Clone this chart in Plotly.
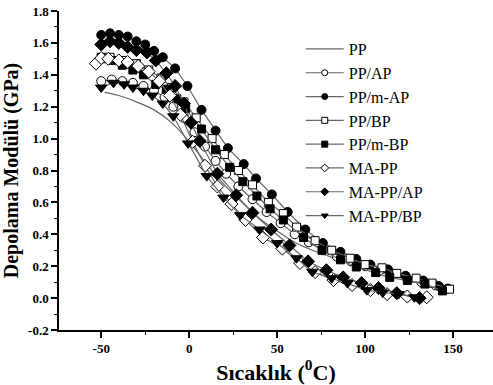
import plotly.graph_objects as go

# ---- data ----
pp_T = [-48, -40, -30, -20, -10, 0, 10, 20, 30, 40, 50, 60, 70, 80, 90, 100, 110, 120, 130, 140, 145]
pp_G = [1.29, 1.27, 1.23, 1.18, 1.10, 0.98, 0.84, 0.71, 0.60, 0.50, 0.42, 0.35, 0.30, 0.26, 0.22, 0.19, 0.16, 0.13, 0.11, 0.09, 0.08]

ppap_T = [-50, -44, -38, -32, -26, -20, -14, -9, -3, 3, 9, 15, 21, 28, 36, 44, 52, 60, 68, 76, 84, 92, 100, 108, 116, 124, 132, 140]
ppap_G = [1.36, 1.37, 1.36, 1.35, 1.33, 1.30, 1.26, 1.20, 1.13, 1.04, 0.95, 0.86, 0.78, 0.70, 0.62, 0.54, 0.47, 0.40, 0.35, 0.30, 0.26, 0.23, 0.20, 0.17, 0.15, 0.12, 0.10, 0.08]

ppmap_T = [-50, -45, -40, -35, -30, -25, -20, -15, -8, -1, 7, 15, 22, 31, 38, 47, 56, 66, 76, 86, 95, 103, 113, 123, 133, 142, 147]
ppmap_G = [1.65, 1.66, 1.65, 1.64, 1.61, 1.59, 1.55, 1.51, 1.44, 1.33, 1.18, 1.05, 0.94, 0.84, 0.75, 0.65, 0.54, 0.43, 0.345, 0.29, 0.245, 0.21, 0.18, 0.14, 0.11, 0.075, 0.06]

ppbp_T = [-50, -45, -38, -30, -23, -16, -10, -3, 4, 13, 20, 28, 36, 45, 53.5, 61, 71.6, 81, 91.5, 100, 109.6, 118, 129, 138, 148]
ppbp_G = [1.50, 1.51, 1.49, 1.47, 1.43, 1.38, 1.32, 1.23, 1.13, 1.00, 0.90, 0.80, 0.71, 0.60, 0.53, 0.445, 0.36, 0.30, 0.25, 0.21, 0.19, 0.155, 0.125, 0.094, 0.056]

ppmbp_T = [-50, -44, -38, -32, -26, -19, -13, -7, -2, 7, 15, 23, 30.5, 38.5, 46, 53.5, 65, 75.5, 86, 95, 106, 114, 124, 134, 144]
ppmbp_G = [1.51, 1.49, 1.46, 1.43, 1.40, 1.34, 1.31, 1.25, 1.19, 1.06, 0.93, 0.82, 0.73, 0.64, 0.56, 0.49, 0.38, 0.30, 0.24, 0.195, 0.16, 0.13, 0.11, 0.088, 0.045]

mapp_T = [-53, -50, -46, -40, -35, -29, -23, -17, -11, -5, 2, 9, 16, 24, 32, 42, 53, 63, 71.6, 82, 92.6, 103, 112.5, 124, 135]
mapp_G = [1.47, 1.505, 1.50, 1.49, 1.48, 1.455, 1.42, 1.36, 1.27, 1.15, 0.98, 0.83, 0.70, 0.59, 0.49, 0.38, 0.31, 0.22, 0.163, 0.113, 0.082, 0.05, 0.025, 0.01, 0.005]

mappap_T = [-50, -45, -40, -35, -30, -24, -19, -13, -8, -3, 1, 6, 16, 26.7, 36, 46.6, 57, 67.6, 78, 87.5, 98, 107.6, 118, 131]
mappap_G = [1.59, 1.61, 1.60, 1.575, 1.555, 1.54, 1.49, 1.41, 1.33, 1.22, 1.10, 0.985, 0.78, 0.645, 0.535, 0.43, 0.33, 0.23, 0.175, 0.13, 0.094, 0.063, 0.031, 0.0]

mappbp_T = [-50, -43, -37, -32, -26, -21, -15, -9, -0.6, 10, 19.5, 29, 40, 50, 61, 70, 81, 90, 101, 110, 119, 128]
mappbp_G = [1.32, 1.35, 1.34, 1.32, 1.30, 1.27, 1.22, 1.14, 0.97, 0.765, 0.63, 0.52, 0.43, 0.345, 0.25, 0.165, 0.125, 0.094, 0.05, 0.035, 0.025, 0.005]

x_ticks = [-50, 0, 50, 100, 150]
x_ticktext = ["-50", "0", "50", "100", "150"]
y_ticks = [-0.2, 0.0, 0.2, 0.4, 0.6, 0.8, 1.0, 1.2, 1.4, 1.6, 1.8]
y_ticktext = ["-0.2", "0.0", "0.2", "0.4", "0.6", "0.8", "1.0", "1.2", "1.4", "1.6", "1.8"]

LINE = "#666666"
series = [
    ("PP", pp_T, pp_G, None, None, None),
    ("PP/AP", ppap_T, ppap_G, "circle", "white", 9),
    ("PP/m-AP", ppmap_T, ppmap_G, "circle", "black", 9),
    ("PP/BP", ppbp_T, ppbp_G, "square", "white", 8),
    ("PP/m-BP", ppmbp_T, ppmbp_G, "square", "black", 8),
    ("MA-PP", mapp_T, mapp_G, "diamond", "white", 10),
    ("MA-PP/AP", mappap_T, mappap_G, "diamond", "black", 10),
    ("MA-PP/BP", mappbp_T, mappbp_G, "triangle-down", "black", 10),
]

fig = go.Figure()
for name, T, G, sym, fill, sz in series:
    if sym is None:
        fig.add_trace(go.Scatter(x=T, y=G, mode="lines", line=dict(color=LINE, width=1.2),
                                 showlegend=False, line_shape="spline"))
    else:
        fig.add_trace(go.Scatter(x=T, y=G, mode="lines+markers", line=dict(color=LINE, width=1.2),
                                 marker=dict(symbol=sym, color=fill, size=sz, line=dict(color="black", width=1)),
                                 showlegend=False))
# legend-only traces with small markers
for name, T, G, sym, fill, sz in series:
    if sym is None:
        fig.add_trace(go.Scatter(x=[None], y=[None], mode="lines", name=name,
                                 line=dict(color=LINE, width=1.2)))
    else:
        fig.add_trace(go.Scatter(x=[None], y=[None], mode="lines+markers", name=name,
                                 line=dict(color=LINE, width=1.2),
                                 marker=dict(symbol=sym, color=fill, size=6, line=dict(color="black", width=1))))

SERIF = "Liberation Serif"
fig.update_layout(
    width=493, height=385,
    margin=dict(l=59, r=0, t=11, b=55, autoexpand=False),
    plot_bgcolor="white", paper_bgcolor="white",
    font=dict(family=SERIF, color="black"),
    legend=dict(x=0.557, y=0.934, xanchor="left", yanchor="top",
                font=dict(family=SERIF, size=16, color="black", weight="normal"),
                bgcolor="rgba(0,0,0,0)", tracegroupgap=0, itemwidth=38),
    xaxis=dict(range=[-74, 172.7], tickvals=x_ticks, ticktext=x_ticktext, automargin=False,
               showline=True, linecolor="black", linewidth=1.5, mirror=False,
               ticks="outside", ticklen=6, tickwidth=1.5, tickcolor="black",
               minor=dict(dtick=25, tick0=-75, ticks="outside", ticklen=3, tickwidth=1.2, tickcolor="black"),
               showgrid=False, zeroline=False,
               tickfont=dict(family=SERIF, size=13, weight="bold"),
               title=dict(text="Sıcaklık (<sup>0</sup>C)", font=dict(family=SERIF, size=22, weight="bold"), standoff=2)),
    yaxis=dict(range=[-0.2, 1.8], tickvals=y_ticks, ticktext=y_ticktext, automargin=False,
               showline=True, linecolor="black", linewidth=1.5, mirror=False,
               ticks="outside", ticklen=6, tickwidth=1.5, tickcolor="black",
               minor=dict(dtick=0.1, tick0=-0.2, ticks="outside", ticklen=3, tickwidth=1.2, tickcolor="black"),
               showgrid=False, zeroline=False,
               tickfont=dict(family=SERIF, size=13, weight="bold"),
               title=dict(text="Depolama Modülü (GPa)", font=dict(family=SERIF, size=20, weight="bold"), standoff=4)),
)
fig.write_html("out.html", config={"displayModeBar": False},
               post_script="document.body.style.margin='0';document.body.style.overflow='hidden';")
